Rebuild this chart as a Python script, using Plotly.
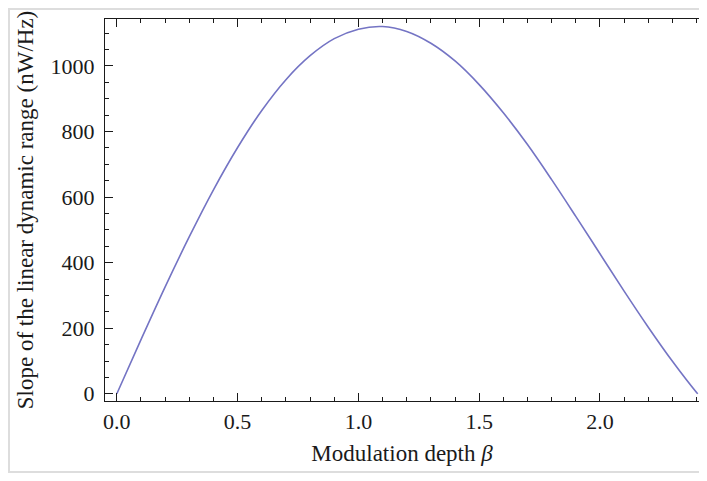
import plotly.graph_objects as go

# Values
beta = [0.0, 0.1, 0.2, 0.3, 0.4, 0.5, 0.6, 0.7, 0.8, 0.9, 1.0, 1.1, 1.2,
        1.3, 1.4, 1.5, 1.6, 1.7, 1.8, 1.9, 2.0, 2.1, 2.2, 2.3, 2.4, 2.405]
slope = [0, 165, 326, 479, 622, 751, 864, 958, 1031, 1083, 1112, 1120, 1105,
         1069, 1015, 943, 857, 760, 653, 541, 427, 313, 203, 99, 4, 0]

x_ticks = [0.0, 0.5, 1.0, 1.5, 2.0]
x_ticklabels = ["0.0", "0.5", "1.0", "1.5", "2.0"]
y_ticks = [0, 200, 400, 600, 800, 1000]
y_ticklabels = ["0", "200", "400", "600", "800", "1000"]

serif = "Liberation Serif"
ink = "#1a1a1a"

fig = go.Figure()
fig.add_trace(go.Scatter(
    x=beta, y=slope, mode="lines",
    line=dict(color="#7474c4", width=1.6, shape="spline"),
    showlegend=False, hoverinfo="skip", cliponaxis=False,
))

axis_common = dict(
    showgrid=False, zeroline=False, showline=True, linecolor=ink,
    linewidth=1.3, ticks="inside", tickcolor=ink,
    tickwidth=1.3, ticklen=8, automargin=False,
    tickfont=dict(family=serif, size=22, color=ink),
)

fig.update_xaxes(
    **axis_common,
    mirror="ticks",
    range=[-0.049, 2.41],
    tickvals=x_ticks, ticktext=x_ticklabels,
    minor=dict(dtick=0.1, tick0=0, ticks="inside", ticklen=4,
               tickcolor=ink, tickwidth=1.1),
    title=dict(text="Modulation depth <i>β</i>",
               font=dict(family=serif, size=23, color=ink), standoff=12),
)
fig.update_yaxes(
    **axis_common,
    mirror=False,
    range=[-22, 1143],
    tickvals=y_ticks, ticktext=y_ticklabels,
    minor=dict(dtick=50, tick0=0, ticks="inside", ticklen=4,
               tickcolor=ink, tickwidth=1.1),
    ticklabelstandoff=5,
    title=dict(text="Slope of the linear dynamic range (nW/Hz)",
               font=dict(family=serif, size=23, color=ink), standoff=10),
)

# light frame around the whole picture
fig.add_shape(type="rect", xref="paper", yref="paper",
              x0=-96/594, x1=1.2, y0=-71/382, y1=1 + 10/382,
              line=dict(color="#dddddd", width=2), layer="below")

fig.update_layout(
    width=691, height=465,
    margin=dict(l=97, r=0, t=11, b=72),
    paper_bgcolor="white", plot_bgcolor="white",
)

fig.write_html("out.html")
